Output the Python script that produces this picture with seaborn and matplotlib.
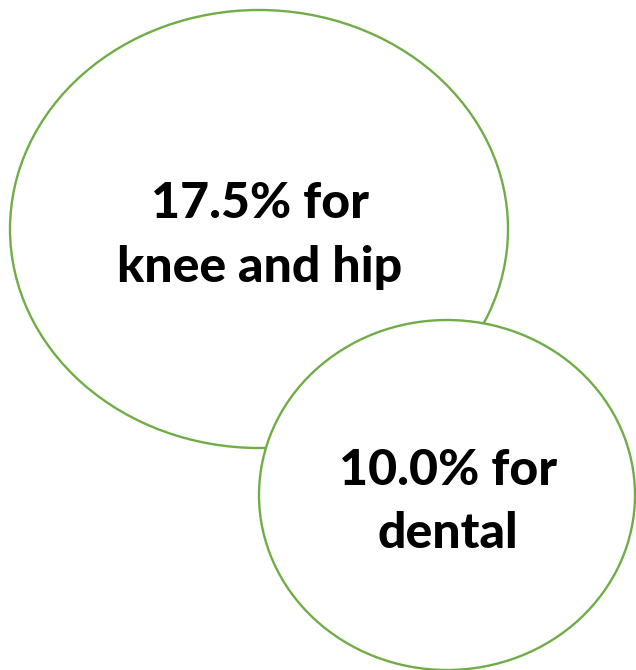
import matplotlib
matplotlib.use("Agg")
import matplotlib.pyplot as plt
from matplotlib.patches import Ellipse
import seaborn as sns

# Shares of procedures shown in each bubble
categories = ["knee and hip", "dental"]
shares = [17.5, 10.0]

sns.set_theme(style="white")
plt.rcParams["font.family"] = ["Lato", "DejaVu Sans"]

W, H = 636, 670
fig = plt.figure(figsize=(W / 100, H / 100), dpi=100)
ax = fig.add_axes([0, 0, 1, 1])
ax.set_xlim(0, W)
ax.set_ylim(H, 0)
ax.set_axis_off()

green = "#70AD47"
# bubble geometry in pixel space: (cx, cy, width, height)
bubbles = [(259, 229, 498, 438), (447, 495, 376, 350)]
# baselines of the two text lines inside each bubble
baselines = [(218, 282), (485, 548)]

for i, ((cx, cy, w, h), share, cat, (b1, b2)) in enumerate(
        zip(bubbles, shares, categories, baselines)):
    ax.add_patch(Ellipse((cx, cy), w, h, facecolor="white", edgecolor=green,
                         linewidth=1.7, zorder=2 + 2 * i))
    for y, s in ((b1, f"{share:.1f}% for"), (b2, cat)):
        ax.text(cx + 1, y, s, ha="center", va="baseline",
                fontsize=36, fontweight="black", color="black",
                zorder=3 + 2 * i)

fig.savefig("out.png", dpi=100, facecolor="white")
